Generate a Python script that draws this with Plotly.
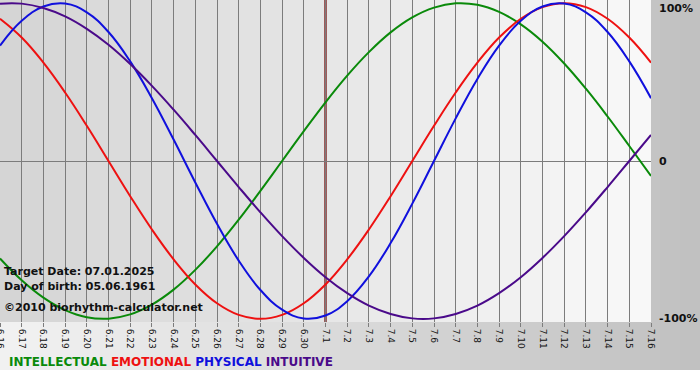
import plotly.graph_objects as go

# ---- data ----
dates = ["6.16", "6.17", "6.18", "6.19", "6.20", "6.21", "6.22", "6.23", "6.24", "6.25",
         "6.26", "6.27", "6.28", "6.29", "6.30", "7.1", "7.2", "7.3", "7.4", "7.5",
         "7.6", "7.7", "7.8", "7.9", "7.10", "7.11", "7.12", "7.13", "7.14", "7.15", "7.16"]

intellectual = [-0.618, -0.756, -0.866, -0.945, -0.990, -0.999, -0.972, -0.910, -0.815, -0.690,
                -0.541, -0.372, -0.189, 0.000, 0.189, 0.372, 0.541, 0.690, 0.815, 0.910,
                0.972, 0.999, 0.990, 0.945, 0.866, 0.756, 0.618, 0.458, 0.282, 0.095, -0.095]
emotional = [0.901, 0.782, 0.623, 0.434, 0.223, 0.000, -0.223, -0.434, -0.623, -0.782,
             -0.901, -0.975, -1.000, -0.975, -0.901, -0.782, -0.623, -0.434, -0.223, 0.000,
             0.223, 0.434, 0.623, 0.782, 0.901, 0.975, 1.000, 0.975, 0.901, 0.782, 0.623]
physical = [0.731, 0.888, 0.979, 0.998, 0.942, 0.817, 0.631, 0.398, 0.136, -0.136,
            -0.398, -0.631, -0.817, -0.942, -0.998, -0.979, -0.888, -0.731, -0.520, -0.270,
            0.000, 0.270, 0.520, 0.731, 0.888, 0.979, 0.998, 0.942, 0.817, 0.631, 0.398]
intuitive = [0.997, 0.997, 0.969, 0.916, 0.837, 0.736, 0.614, 0.476, 0.325, 0.165,
             0.000, -0.165, -0.325, -0.476, -0.614, -0.736, -0.837, -0.916, -0.969, -0.997,
             -0.997, -0.969, -0.916, -0.837, -0.736, -0.614, -0.476, -0.325, -0.165, 0.000, 0.165]

series_names = ["INTELLECTUAL", "EMOTIONAL", "PHYSICAL", "INTUITIVE"]
series_colors = ["#0a8a0a", "#ee1111", "#1010dd", "#4a0a8a"]
target_date = "7.1"
y_ticks = [1, 0, -1]
y_ticklabels = ["100%", "0", "-100%"]

# ---- geometry ----
W, H = 700, 380
ML, MR, MT, MB = 0, 49, 0, 58
PW = W - ML - MR
PH = H - MT - MB
FONT = "DejaVu Sans"

fig = go.Figure()

for name, vals, col in zip(series_names, [intellectual, emotional, physical, intuitive], series_colors):
    fig.add_trace(go.Scatter(x=dates, y=vals, mode="lines", name=name,
                             line=dict(color=col, width=2, shape="spline", smoothing=1.2),
                             showlegend=False, hoverinfo="skip"))

shapes = []


def gray(v):
    v = int(round(v))
    return f"rgb({v},{v},{v})"


# outer background gradient (paper coords)
n_out = 35
for k in range(n_out):
    x0 = k * W / n_out
    x1 = (k + 1) * W / n_out
    v = 242 - (242 - 192) * (k + 0.5) / n_out
    shapes.append(dict(type="rect", xref="paper", yref="paper",
                       x0=x0 / PW, x1=x1 / PW, y0=1 - 370 / PH, y1=1.0,
                       fillcolor=gray(v), line=dict(width=0), layer="below"))

# plot-area gradient per day column
n = len(dates) - 1
for k in range(n):
    v = 212 + (249 - 212) * (k + 0.5) / n
    shapes.append(dict(type="rect", xref="x", yref="paper", x0=k, x1=k + 1, y0=0, y1=1,
                       fillcolor=gray(v), line=dict(width=0), layer="below"))

# target date marker
ti = dates.index(target_date)
shapes.append(dict(type="line", xref="x", yref="paper", x0=ti, x1=ti, y0=0, y1=1,
                   line=dict(color="#b07070", width=2.8), layer="between"))
shapes.append(dict(type="line", xref="x", yref="paper", x0=ti, x1=ti, y0=0, y1=1,
                   line=dict(color="#6a1010", width=1.6), layer="between"))

annotations = []
# right-hand percentage labels
for v, t in zip(y_ticks, y_ticklabels):
    yy = v
    if v == 1:
        yy = 0.965
    annotations.append(dict(x=1, xref="paper", xanchor="left", xshift=6, y=yy, yref="y",
                            yanchor="middle", text=t, showarrow=False,
                            font=dict(family=FONT, size=11, color="#111111", weight="bold")))

# info texts
info = [("Target Date: 07.01.2025", 271, 11), ("Day of birth: 05.06.1961", 286, 11),
        ("©2010 biorhythm-calculator.net", 307, 11)]
for t, ypx, sz in info:
    annotations.append(dict(x=2 / PW, xref="paper", xanchor="left", y=1 - ypx / PH, yref="paper",
                            yanchor="middle", text=t, showarrow=False,
                            font=dict(family=FONT, size=sz, color="#111111", weight="bold")))

# legend line
legend_html = " ".join(f'<span style="color:{c}">{nm}</span>'
                       for nm, c in zip(series_names, series_colors))
annotations.append(dict(x=7 / PW, xref="paper", xanchor="left", y=1 - 362 / PH, yref="paper",
                        yanchor="middle", text=legend_html, showarrow=False,
                        font=dict(family=FONT, size=12, weight="bold")))

fig.update_layout(
    width=W, height=H,
    margin=dict(l=ML, r=MR, t=MT, b=MB, pad=0, autoexpand=False),
    paper_bgcolor="white",
    plot_bgcolor="rgba(0,0,0,0)",
    shapes=shapes,
    annotations=annotations,
    xaxis=dict(type="category", range=[0, n], showgrid=True, gridcolor="#7c7c7c", gridwidth=1,
               ticks="outside", ticklen=4, tickcolor="#7c7c7c", tickangle=90, automargin=False,
               tickfont=dict(family=FONT, size=9, color="#111111"), zeroline=False,
               showline=False, fixedrange=True),
    yaxis=dict(range=[-1.02, 1.02], showgrid=False, zeroline=True, zerolinecolor="#7c7c7c",
               zerolinewidth=1, showticklabels=False, ticks="", fixedrange=True, automargin=False),
    showlegend=False,
)

fig.write_html("out.html", config={"displayModeBar": False},
               post_script="document.body.style.margin='0';document.body.style.overflow='hidden';")
